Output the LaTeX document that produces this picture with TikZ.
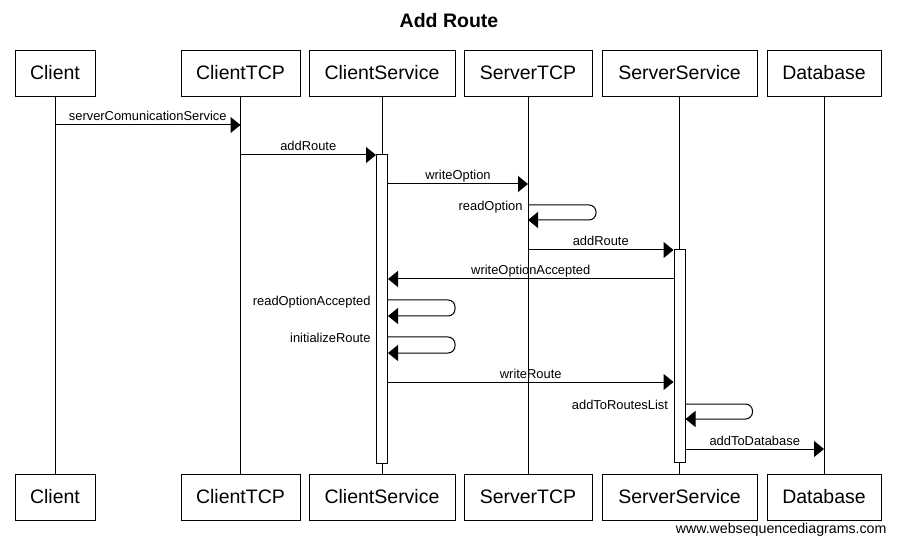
\documentclass[tikz,border=0pt]{standalone}
\usepackage{fontspec}
\setmainfont{Liberation Sans}
\usetikzlibrary{arrows.meta}
\begin{document}
\begin{tikzpicture}[x=1pt,y=-1pt,line width=1pt,
  actor/.style={draw, fill=white, minimum height=46pt, inner sep=0pt,
    text height=15pt, text depth=3pt, font=\fontsize{19.5}{22}\selectfont},
  act/.style={draw, fill=white, minimum width=11pt, inner sep=0pt},
  msg/.style={-{Triangle[length=10pt,width=16pt]}},
  selfmsg/.style={msg, rounded corners=7pt},
  mlbl/.style={anchor=base, yshift=4pt, inner sep=0pt, font=\fontsize{12.9}{14}\selectfont},
  slbl/.style={anchor=base east, xshift=-5pt, yshift=-5.5pt, inner sep=0pt, font=\fontsize{12.9}{14}\selectfont},
]
\useasboundingbox (0,0) rectangle (897,545);
\fill[white] (0,0) rectangle (897,545);

\node[anchor=base, font=\bfseries\fontsize{19.5}{22}\selectfont] (title) at (449,28) {Add Route};

% actors top
\node[actor, minimum width=80pt]  (cT)   at (55,74)    {Client};
\node[actor, minimum width=119pt] (tcpT) at (240.5,74) {ClientTCP};
\node[actor, minimum width=146pt] (csT)  at (382,74)   {ClientService};
\node[actor, minimum width=128pt] (stT)  at (528,74)   {ServerTCP};
\node[actor, minimum width=155pt] (ssT)  at (679.5,74) {ServerService};
\node[actor, minimum width=114pt] (dbT)  at (824,74)   {Database};
% actors bottom
\node[actor, minimum width=80pt]  (cB)   at (55,497)    {Client};
\node[actor, minimum width=119pt] (tcpB) at (240.5,497) {ClientTCP};
\node[actor, minimum width=146pt] (csB)  at (382,497)   {ClientService};
\node[actor, minimum width=128pt] (stB)  at (528,497)   {ServerTCP};
\node[actor, minimum width=155pt] (ssB)  at (679.5,497) {ServerService};
\node[actor, minimum width=114pt] (dbB)  at (824,497)   {Database};

% lifelines
\draw (cT.south) -- (cB.north);
\draw (tcpT.south) -- (tcpB.north);
\draw (csT.south) -- (csB.north);
\draw (stT.south) -- (stB.north);
\draw (ssT.south) -- (ssB.north);
\draw (dbT.south) -- (dbB.north);

% activations
\node[act, minimum height=308pt] (a1) at (382,309) {};
\node[act, minimum height=212pt] (a2) at (679.5,356) {};

% messages
\draw[msg] (cT |- 0,125) -- node[mlbl] (l1) {serverComunicationService} (tcpT |- 0,125);
\draw[msg] (tcpT |- 0,155) -- node[mlbl] (l2) {addRoute} (a1.west |- 0,155);
\draw[msg] (a1.east |- 0,184) -- node[mlbl] (l3) {writeOption} (stT |- 0,184);
\draw[selfmsg] (stT |- 0,205) node[slbl] (l4) {readOption} -- ++(68,0) -- ++(0,15) -- (stT |- 0,220);
\draw[msg] (stT |- 0,250) -- node[mlbl] (l5) {addRoute} (a2.west |- 0,250);
\draw[msg] (a2.west |- 0,279) -- node[mlbl] (l6) {writeOptionAccepted} (a1.east |- 0,279);
\draw[selfmsg] (a1.east |- 0,300) -- ++(67,0) -- ++(0,16) -- (a1.east |- 0,316);
\node[slbl] (l7) at (a1.west |- 0,300) {readOptionAccepted};
\draw[selfmsg] (a1.east |- 0,337) -- ++(67,0) -- ++(0,16) -- (a1.east |- 0,353);
\node[slbl] (l8) at (a1.west |- 0,337) {initializeRoute};
\draw[msg] (a1.east |- 0,382) -- node[mlbl] (l9) {writeRoute} (a2.west |- 0,382);
\draw[selfmsg] (a2.east |- 0,404) -- ++(67,0) -- ++(0,15) -- (a2.east |- 0,419);
\node[slbl] (l10) at (a2.west |- 0,404) {addToRoutesList};
\draw[msg] (a2.east |- 0,449) -- node[mlbl] (l11) {addToDatabase} (dbT |- 0,449);

\node[anchor=base east, inner sep=0pt, font=\fontsize{14.2}{16}\selectfont] (wm) at (887,533) {www.websequencediagrams.com};
\end{tikzpicture}
\end{document}
